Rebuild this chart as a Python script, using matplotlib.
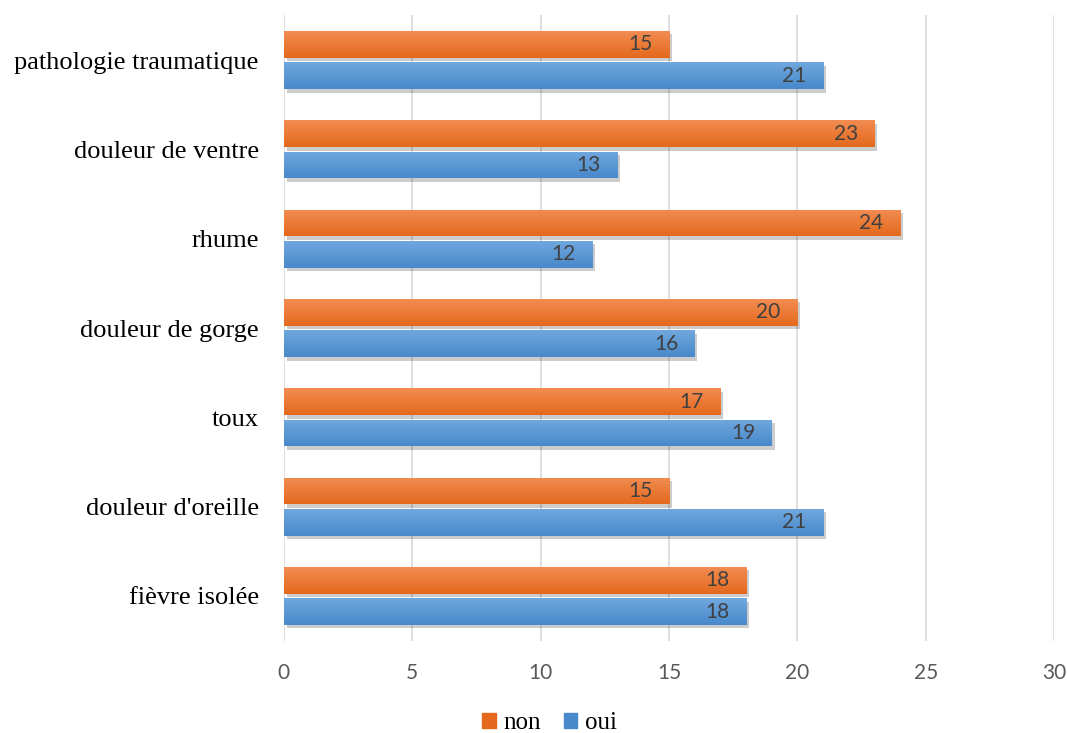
import matplotlib
matplotlib.use("Agg")
import matplotlib.pyplot as plt
import numpy as np
from matplotlib import patheffects as pe
from matplotlib.colors import LinearSegmentedColormap
from matplotlib.patches import Rectangle

categories = ["fièvre isolée", "douleur d'oreille", "toux", "douleur de gorge",
              "rhume", "douleur de ventre", "pathologie traumatique"]
non = [18, 15, 17, 20, 24, 23, 15]
oui = [18, 21, 19, 16, 12, 13, 21]
xticks = [0, 5, 10, 15, 20, 25, 30]

ORANGE_TOP, ORANGE_BOT = "#F28C52", "#E4691D"
BLUE_TOP, BLUE_BOT = "#70A7DE", "#4889CB"


def gradient_fill(ax, patch, top, bottom):
    x0, y0 = patch.get_x(), patch.get_y()
    w, h = patch.get_width(), patch.get_height()
    cmap = LinearSegmentedColormap.from_list("g", [bottom, top])
    grad = np.linspace(0, 1, 64).reshape(-1, 1)
    im = ax.imshow(grad, cmap=cmap, aspect="auto", origin="lower",
                   extent=(x0, x0 + w, y0, y0 + h), zorder=3, interpolation="bicubic")
    im.set_clip_path(patch)


fig = plt.figure(figsize=(10.67, 7.33), dpi=100)
ax = fig.add_axes([0.266, 0.126, 0.722, 0.853])

y = np.arange(len(categories))
h = 0.30
off = 0.175
bars_non = ax.barh(y + off, non, height=h, color=ORANGE_BOT, zorder=2, label="non")
bars_oui = ax.barh(y - off, oui, height=h, color=BLUE_BOT, zorder=2, label="oui")

shadow = [pe.SimplePatchShadow(offset=(2, -2.5), shadow_rgbFace="#000000", alpha=0.2), pe.Normal()]
for bars, top, bot in [(bars_non, ORANGE_TOP, ORANGE_BOT), (bars_oui, BLUE_TOP, BLUE_BOT)]:
    for p in bars:
        p.set_path_effects(shadow)
        gradient_fill(ax, p, top, bot)

for bars in (bars_non, bars_oui):
    texts = ax.bar_label(bars, padding=-12, fontsize=15, color="#404040", family="Lato", zorder=5)
    for t in texts:
        t.set_ha("right")
        t.set_zorder(5)

ax.set_xlim(0, 30)
ax.set_ylim(-0.5, len(categories) - 0.5)
ax.set_xticks(xticks)
ax.set_xticklabels([str(v) for v in xticks], fontsize=15, color="#595959", family="Lato")
ax.set_yticks(y)
ax.set_yticklabels(categories, fontsize=19, family="Liberation Serif", color="#000000")
ax.tick_params(axis="x", length=0, pad=16)
ax.tick_params(axis="y", length=0, pad=18)
ax.grid(axis="x", color="#D9D9D9", linewidth=1.2, zorder=0)
ax.set_axisbelow(True)
for s in ax.spines.values():
    s.set_visible(False)

handles = [Rectangle((0, 0), 1, 1, color=ORANGE_BOT), Rectangle((0, 0), 1, 1, color=BLUE_BOT)]
fig.legend(handles, ["non", "oui"], loc="center", bbox_to_anchor=(0.515, 0.013), ncol=2,
           frameon=False, prop={"family": "Liberation Serif", "size": 18},
           handlelength=0.55, handleheight=0.55, handletextpad=0.3, columnspacing=0.9)

fig.savefig("out.png", dpi=100)
